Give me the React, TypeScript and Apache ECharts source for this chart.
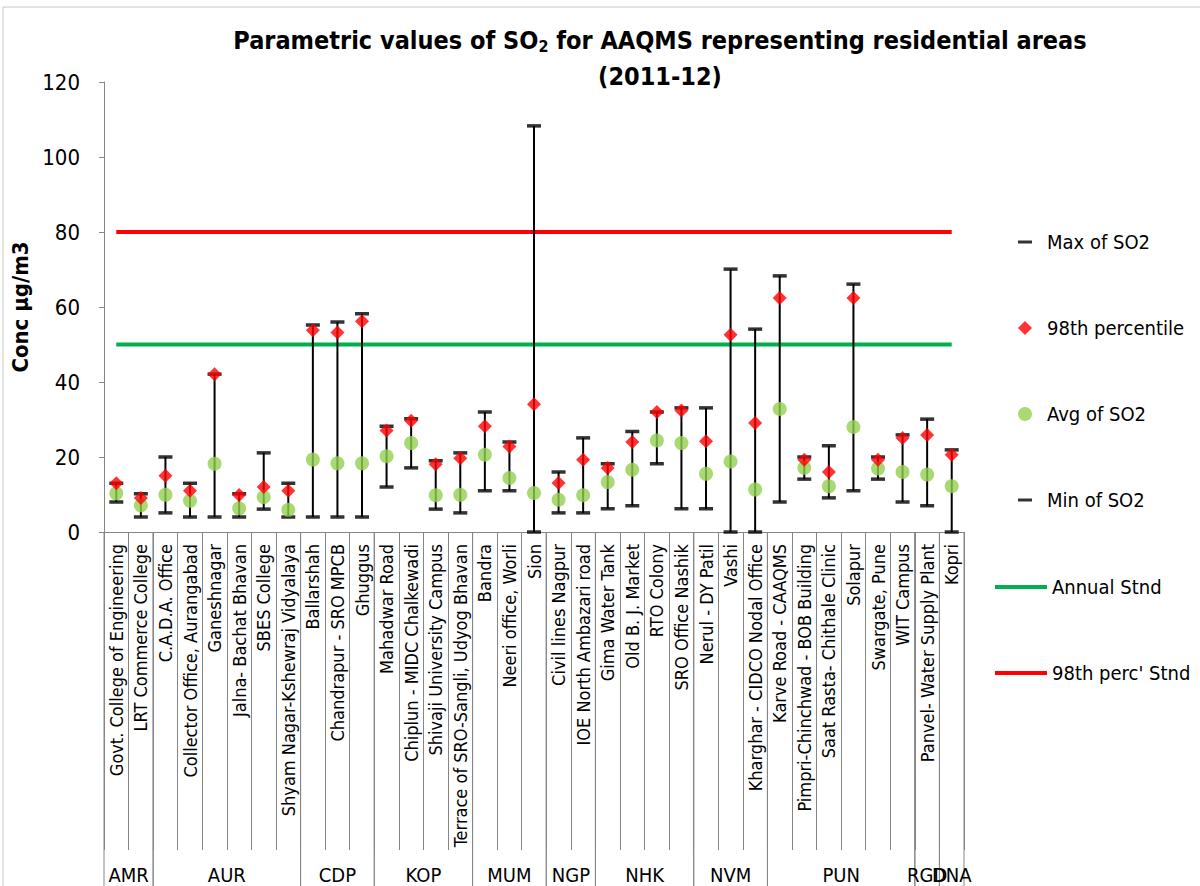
import React, { useEffect, useRef } from "react";
import * as echarts from "echarts";

const stations = [
  "Govt. College of Engineering",
  "LRT Commerce College",
  "C.A.D.A. Office",
  "Collector Office, Aurangabad",
  "Ganeshnagar",
  "Jalna- Bachat Bhavan",
  "SBES College",
  "Shyam Nagar-Kshewraj Vidyalaya",
  "Ballarshah",
  "Chandrapur - SRO MPCB",
  "Ghuggus",
  "Mahadwar Road",
  "Chiplun - MIDC Chalkewadi",
  "Shivaji University Campus",
  "Terrace of SRO-Sangli, Udyog Bhavan",
  "Bandra",
  "Neeri office, Worli",
  "Sion",
  "Civil lines Nagpur",
  "IOE North Ambazari road",
  "Gima Water Tank",
  "Old B. J. Market",
  "RTO Colony",
  "SRO Office Nashik",
  "Nerul - DY Patil",
  "Vashi",
  "Kharghar - CIDCO Nodal Office",
  "Karve Road - CAAQMS",
  "Pimpri-Chinchwad - BOB Building",
  "Saat Rasta- Chithale Clinic",
  "Solapur",
  "Swargate, Pune",
  "WIT Campus",
  "Panvel- Water Supply Plant",
  "Kopri",
];

const groupNames = ["AMR", "AUR", "CDP", "KOP", "MUM", "NGP", "NHK", "NVM", "PUN", "RGD", "DNA"];
const groupStart = [0, 2, 8, 11, 15, 18, 20, 24, 27, 33, 34];
const groupEnd = [1, 7, 10, 14, 17, 19, 23, 26, 32, 33, 34];

const maxSO2 = [13, 10.2, 20, 13, 42.1, 10.2, 21.1, 13, 55.2, 56, 58.2, 28.2, 30.2, 19, 21.1, 32, 24, 108.3, 16, 25.1, 18.2, 26.8, 32, 33.1, 33.1, 70.1, 54.1, 68.3, 20, 23, 66.1, 20, 25.9, 30.1, 21.9];
const p98SO2 = [13, 9.1, 15, 11, 42.1, 9.9, 12, 11, 53.8, 53.2, 56.2, 27.1, 29.7, 18.1, 19.7, 28.2, 22.8, 34.1, 13.1, 19.3, 17.1, 24, 32, 32.4, 24.2, 52.6, 29.1, 62.4, 19.3, 16, 62.4, 19.3, 25.1, 25.9, 20.6];
const avgSO2 = [10.3, 7.1, 9.9, 8.3, 18.2, 6.3, 9.3, 5.9, 19.3, 18.3, 18.3, 20.2, 23.7, 9.8, 9.9, 20.6, 14.4, 10.4, 8.6, 9.8, 13.3, 16.6, 24.4, 23.7, 15.5, 18.8, 11.3, 32.8, 17.1, 12.2, 28, 16.9, 16, 15.3, 12.2];
const minSO2 = [8, 4, 5.1, 4, 4, 4, 6.1, 4, 4, 4, 4, 12, 17.1, 6.1, 5.1, 11, 11, 0, 5.1, 5.1, 6.2, 7, 18.2, 6.2, 6.2, 0, 0, 8, 14.1, 9.1, 11, 14.1, 8, 7, 0];

const annualStandard = 50;
const p98Standard = 80;

const yMin = 0;
const yMax = 120;
const yStep = 20;

const FONT = "'Liberation Sans Narrow', 'Arial Narrow', 'DejaVu Sans Condensed', sans-serif";

export default function App() {
  const ref = useRef<HTMLDivElement>(null);

  useEffect(() => {
    if (!ref.current) return;
    const chart = echarts.init(ref.current, undefined, { renderer: "svg" });
    const dashIcon = "path://M0,0h14v3h-14z";

    chart.setOption({
      animation: false,
      backgroundColor: "#ffffff",
      textStyle: { fontFamily: FONT },
      graphic: [
        {
          type: "rect",
          shape: { x: 3, y: 7, width: 1300, height: 1000 },
          style: { fill: "none", stroke: "#c8c8c8", lineWidth: 1 },
          silent: true,
        },
        {
          type: "text",
          x: 660,
          y: 26,
          style: {
            text: "{t|Parametric values of SO}{s|2}{t| for AAQMS representing residential areas}",
            textAlign: "center",
            rich: {
              t: { fontFamily: FONT, fontSize: 25, fontWeight: "bold", fill: "#000" },
              s: { fontFamily: FONT, fontSize: 16, fontWeight: "bold", fill: "#000", padding: [12, 0, 0, 0] },
            },
          },
        },
        {
          type: "text",
          x: 660,
          y: 64,
          style: {
            text: "(2011-12)",
            fontFamily: FONT,
            fontSize: 25,
            fontWeight: "bold",
            fill: "#000",
            textAlign: "center",
          },
        },
      ],
      grid: { left: 104, right: 236, top: 82, bottom: 354, containLabel: false },
      legend: [
        {
          orient: "vertical",
          left: 1013,
          top: 227,
          itemWidth: 14,
          itemHeight: 14,
          itemGap: 66,
          textStyle: { fontFamily: FONT, fontSize: 20, color: "#000", padding: [0, 0, 0, 10], lineHeight: 20 },
          data: [
            { name: "Max of SO2", icon: dashIcon },
            { name: "98th percentile", icon: "diamond" },
            { name: "Avg of SO2", icon: "circle" },
            { name: "Min of SO2", icon: dashIcon },
          ],
          selectedMode: false,
        },
        {
          orient: "vertical",
          left: 990,
          top: 572,
          itemWidth: 52,
          itemHeight: 4,
          itemGap: 66,
          textStyle: { fontFamily: FONT, fontSize: 20, color: "#000", lineHeight: 20 },
          data: [
            { name: "Annual Stnd", icon: "rect" },
            { name: "98th perc' Stnd", icon: "rect" },
          ],
          selectedMode: false,
        },
      ],
      xAxis: {
        type: "category",
        data: stations,
        boundaryGap: true,
        axisLine: { lineStyle: { color: "#868686", width: 1 } },
        axisTick: { show: true, interval: 0, length: 318, lineStyle: { color: "#868686" } },
        axisLabel: {
          interval: 0,
          rotate: 90,
          margin: 12,
          fontFamily: FONT,
          fontSize: 18,
          color: "#000",
        },
      },
      yAxis: {
        type: "value",
        min: yMin,
        max: yMax,
        interval: yStep,
        name: "Conc µg/m3",
        nameLocation: "middle",
        nameGap: 66,
        nameTextStyle: { fontFamily: FONT, fontSize: 22, fontWeight: "bold", color: "#000" },
        splitLine: { show: false },
        axisLine: { show: true, lineStyle: { color: "#868686" } },
        axisTick: { show: true, length: 5, lineStyle: { color: "#868686" } },
        axisLabel: { fontFamily: FONT, fontSize: 22, color: "#000", margin: 24 },
      },
      series: [
        {
          name: "Annual Stnd",
          type: "line",
          data: stations.map(() => annualStandard),
          symbol: "none",
          lineStyle: { color: "#00B050", width: 4 },
          itemStyle: { color: "#00B050" },
          z: 1,
        },
        {
          name: "98th perc' Stnd",
          type: "line",
          data: stations.map(() => p98Standard),
          symbol: "none",
          lineStyle: { color: "#FF0000", width: 4 },
          itemStyle: { color: "#FF0000" },
          z: 1,
        },
        {
          name: "range",
          type: "custom",
          data: stations.map((_, i) => [i, minSO2[i], maxSO2[i]]),
          encode: { x: 0, y: [1, 2] },
          renderItem: (params: any, api: any) => {
            const i = params.dataIndex;
            const lo = api.coord([i, minSO2[i]]);
            const hi = api.coord([i, maxSO2[i]]);
            return {
              type: "line",
              shape: { x1: lo[0], y1: lo[1], x2: hi[0], y2: hi[1] },
              style: { stroke: "#000", lineWidth: 2 },
            };
          },
          z: 2,
          silent: true,
        },
        {
          name: "Max of SO2",
          type: "scatter",
          data: maxSO2,
          symbol: "rect",
          symbolSize: [14, 3.5],
          itemStyle: { color: "#000" },
          z: 3,
        },
        {
          name: "Min of SO2",
          type: "scatter",
          data: minSO2,
          symbol: "rect",
          symbolSize: [14, 3.5],
          itemStyle: { color: "#000" },
          z: 3,
        },
        {
          name: "Avg of SO2",
          type: "scatter",
          data: avgSO2,
          symbol: "circle",
          symbolSize: 14,
          itemStyle: { color: "#92D050" },
          z: 4,
        },
        {
          name: "98th percentile",
          type: "scatter",
          data: p98SO2,
          symbol: "diamond",
          symbolSize: 14,
          itemStyle: { color: "#FF0000" },
          z: 5,
        },
        {
          name: "groups",
          type: "custom",
          data: groupNames.map((_, g) => [groupStart[g], 0]),
          encode: { x: 0, y: 1 },
          clip: false,
          silent: true,
          renderItem: (params: any, api: any) => {
            const g = params.dataIndex;
            const bw = api.size([1, 0])[0];
            const a = api.coord([groupStart[g], 0]);
            const b = api.coord([groupEnd[g], 0]);
            const left = a[0] - bw / 2;
            const right = b[0] + bw / 2;
            const y0 = a[1];
            return {
              type: "group",
              children: [
                {
                  type: "line",
                  shape: { x1: left, y1: y0, x2: left, y2: y0 + 360 },
                  style: { stroke: "#868686", lineWidth: 1 },
                },
                {
                  type: "line",
                  shape: { x1: right, y1: y0, x2: right, y2: y0 + 360 },
                  style: { stroke: "#868686", lineWidth: 1 },
                },
                {
                  type: "text",
                  x: (left + right) / 2,
                  y: y0 + 343,
                  style: {
                    text: groupNames[g],
                    fontFamily: FONT,
                    fontSize: 20,
                    fill: "#000",
                    textAlign: "center",
                    textVerticalAlign: "middle",
                  },
                },
              ],
            };
          },
        },
      ],
    });
    return () => chart.dispose();
  }, []);

  return (
    <div
      ref={ref}
      style={{ position: "fixed", left: 0, top: 0, width: 1200, height: 886, background: "#fff" }}
    />
  );
}
